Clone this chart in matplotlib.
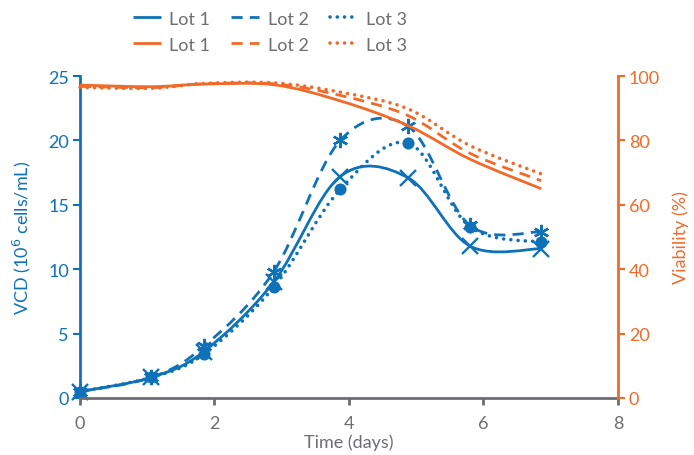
import numpy as np
import matplotlib.pyplot as plt
from matplotlib.path import Path
from matplotlib.patches import PathPatch
from matplotlib.lines import Line2D

plt.rcParams['font.family'] = ['Lato', 'DejaVu Sans']

# Data
days = [0.0, 1.06, 1.84, 2.88, 3.87, 4.88, 5.80, 6.86]
vcd_lot1 = [0.5, 1.6, 3.6, 9.0, 17.2, 17.1, 11.8, 11.6]
vcd_lot2 = [0.5, 1.6, 4.0, 9.8, 20.0, 21.1, 13.4, 12.9]
vcd_lot3 = [0.5, 1.6, 3.4, 8.6, 16.2, 19.8, 13.3, 12.1]
via_lot1 = [97.2, 96.7, 97.5, 97.3, 92.3, 84.6, 74.2, 65.0]
via_lot2 = [96.8, 96.4, 97.6, 97.6, 94.0, 87.7, 76.0, 67.5]
via_lot3 = [96.5, 96.2, 97.7, 97.9, 95.0, 89.8, 78.4, 69.6]
labels = ['Lot 1', 'Lot 2', 'Lot 3']

BLUE = '#0f72b9'
ORANGE = '#f26a2a'
GRAY = '#6d6e71'

styles = ['-', (0, (4.0, 2.6)), (0, (0.01, 2.0))]
caps = ['butt', 'butt', 'round']
widths = [2.0, 2.0, 2.6]
markers = ['x', (6, 2, 0), 'o']


def smooth_path(x, y):
    # Catmull-Rom segments converted to cubic Bezier control points (Excel-like smoothing)
    x = np.asarray(x, float)
    y = np.asarray(y, float)
    n = len(x)
    verts = [(x[0], y[0])]
    codes = [Path.MOVETO]
    for i in range(n - 1):
        i0 = max(i - 1, 0)
        i3 = min(i + 2, n - 1)
        c1 = (x[i] + (x[i + 1] - x[i0]) / 6, y[i] + (y[i + 1] - y[i0]) / 6)
        c2 = (x[i + 1] - (x[i3] - x[i]) / 6, y[i + 1] - (y[i3] - y[i]) / 6)
        verts += [c1, c2, (x[i + 1], y[i + 1])]
        codes += [Path.CURVE4] * 3
    return Path(verts, codes)


fig = plt.figure(figsize=(6.94, 4.56), dpi=100)
ax = fig.add_axes([0.1153, 0.125, 0.775, 0.706])
ax2 = ax.twinx()

for vcd, ls, cap, lw, mk in zip([vcd_lot1, vcd_lot2, vcd_lot3], styles, caps, widths, markers):
    ax.add_patch(PathPatch(smooth_path(days, vcd), fill=False, edgecolor=BLUE,
                           lw=lw, linestyle=ls, capstyle=cap, clip_on=False))
    ax.plot(days, vcd, linestyle='none', marker=mk, color=BLUE,
            markersize=11 if mk != 'o' else 7, markeredgewidth=1.7, clip_on=False)

for via, ls, cap, lw in zip([via_lot1, via_lot2, via_lot3], styles, caps, widths):
    ax2.add_patch(PathPatch(smooth_path(days, via), fill=False, edgecolor=ORANGE,
                            lw=lw, linestyle=ls, capstyle=cap, clip_on=False))

ax.set_xlim(0, 8)
ax.set_ylim(0, 25)
ax2.set_ylim(0, 100)
ax.set_xticks([0, 2, 4, 6, 8])
ax.set_yticks([0, 5, 10, 15, 20, 25])
ax2.set_yticks([0, 20, 40, 60, 80, 100])

for a in (ax, ax2):
    a.spines['top'].set_visible(False)
ax.spines['right'].set_visible(False)
ax2.spines['left'].set_visible(False)
ax2.spines['bottom'].set_visible(False)
ax.spines['left'].set_color(BLUE)
ax.spines['left'].set_linewidth(2)
ax2.spines['right'].set_color(ORANGE)
ax2.spines['right'].set_linewidth(2)
ax.spines['bottom'].set_color(GRAY)
ax.spines['bottom'].set_linewidth(2)

ax.tick_params(axis='x', colors=GRAY, labelsize=13, length=5, width=2, pad=7)
ax.tick_params(axis='y', colors=BLUE, labelsize=13, length=5, width=1.5, pad=3)
ax2.tick_params(axis='y', colors=ORANGE, labelsize=13, length=5, width=1.5, pad=3)

ax.set_xlabel('Time (days)', color=GRAY, fontsize=13, labelpad=2)
ax.set_ylabel('VCD (10$^6$ cells/mL)', color=BLUE, fontsize=13, labelpad=11)
ax2.set_ylabel('Viability (%)', color=ORANGE, fontsize=13, labelpad=9)

handles = []
for color in (BLUE, ORANGE):
    for ls, cap, lw in zip(styles, caps, widths):
        handles.append(Line2D([], [], color=color, lw=lw, linestyle=ls,
                              dash_capstyle=cap, solid_capstyle='butt'))
# order column-wise so rows are blue / orange
order = [0, 3, 1, 4, 2, 5]
leg_labels = labels + labels
fig.legend([handles[i] for i in order], [leg_labels[i] for i in order],
           ncol=3, loc='upper left', bbox_to_anchor=(0.168, 1.01), frameon=False,
           fontsize=13, labelcolor=GRAY, handlelength=1.55, columnspacing=1.2,
           handletextpad=0.45, labelspacing=0.55)

fig.savefig('out.png', dpi=100)
